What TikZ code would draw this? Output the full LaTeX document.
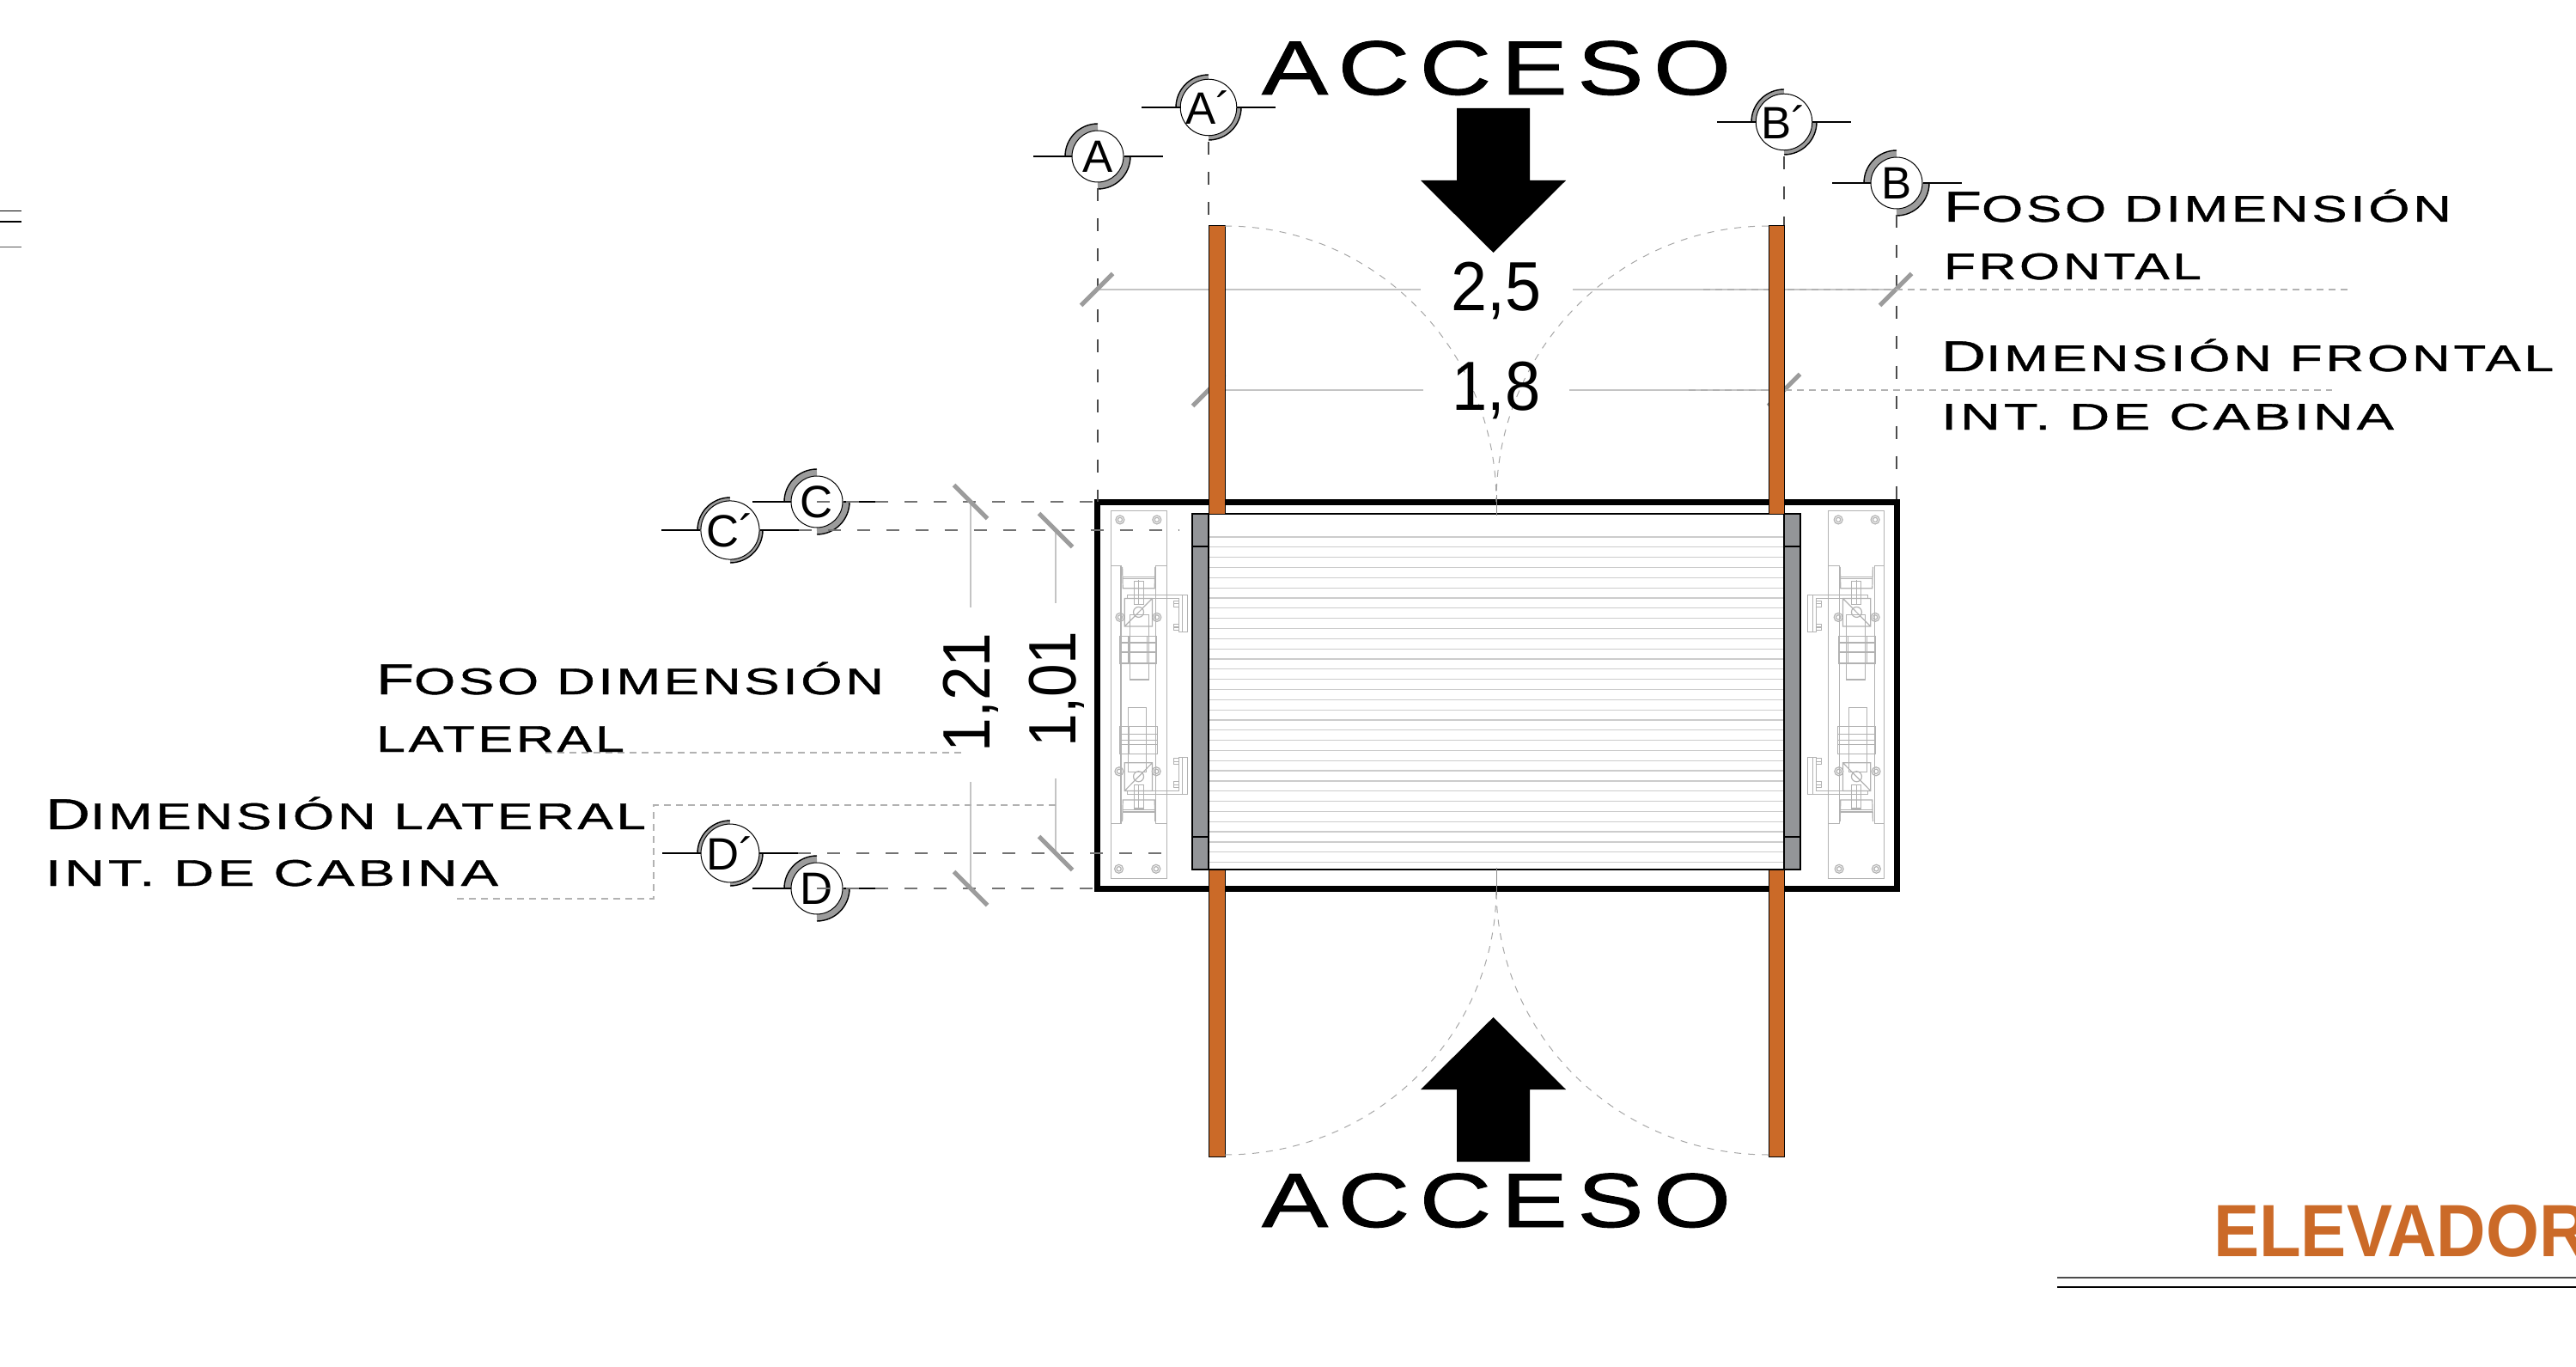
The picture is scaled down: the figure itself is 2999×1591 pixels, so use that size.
\documentclass[tikz,border=0pt]{standalone}
\usepackage{graphicx}
\usepackage{fontspec}
\setmainfont{Liberation Sans}
\newfontfamily\eu[LetterSpace=6,FakeBold=0.8]{Liberation Sans}
\newfontfamily\euwide[LetterSpace=10,FakeBold=1]{Liberation Sans}
\usetikzlibrary{calc}
\newlength\pxu \setlength\pxu{0.01cm}
\definecolor{orangecol}{HTML}{CB6A28}
\definecolor{barcol}{HTML}{939598}
\definecolor{tickcol}{HTML}{9C9C9C}
\definecolor{linecol}{HTML}{C4C4C4}
\definecolor{machcol}{HTML}{B2B2B2}
\newcommand\euT[2]{{\eu\fontsize{14.3}{17}\selectfont #1}{\eu\fontsize{12.3}{15}\selectfont #2}}
\newcommand\euS[1]{{\eu\fontsize{12.3}{15}\selectfont #1}}
\newcommand\fitw[2]{\resizebox{#1\pxu}{\height}{#2}}
\tikzset{
  labeltext/.style={inner sep=0pt,outer sep=0pt,anchor=base west,text=black},
  dimtext/.style={inner sep=0pt,outer sep=0pt,anchor=base,font=\fontsize{23}{26}\selectfont},
  dimrot/.style={inner sep=0pt,outer sep=0pt,anchor=base,rotate=90,font=\fontsize{22.2}{26}\selectfont},
  marktext/.style={circle,draw=black,fill=white,line width=1\pxu,minimum size=60\pxu,inner sep=0pt,font=\fontsize{15}{18}\selectfont},
  secline/.style={line width=2\pxu,black},
  ringgray/.style={line width=8\pxu,tickcol},
  ringblack/.style={line width=1.4\pxu,black},
  vdash/.style={line width=1.2\pxu,black!70,dash pattern=on 15\pxu off 20\pxu},
  hdash/.style={line width=1.5\pxu,black!55,dash pattern=on 15\pxu off 19\pxu},
  leader/.style={line width=1.2\pxu,black!30,dash pattern=on 8\pxu off 6\pxu},
  swing/.style={line width=1\pxu,black!35,dash pattern=on 8\pxu off 8\pxu},
  dimline/.style={line width=1.5\pxu,linecol},
  tickmark/.style={line width=5\pxu,tickcol},
  column/.style={draw=black,line width=1\pxu,fill=orangecol},
  bar/.style={draw=black,line width=1.5\pxu,fill=barcol},
  slat/.style={line width=1.2\pxu,black!20},
  mach/.style={line width=1.2\pxu,machcol},
  arrowfill/.style={fill=black,draw=none},
}
\newcommand\secmark[4]{%
  \draw[ringgray] ($(#2,#3)+(-34,0)$) arc[start angle=180,end angle=270,radius=34];
  \draw[ringgray] ($(#2,#3)+(34,0)$) arc[start angle=0,end angle=90,radius=34];
  \draw[ringblack] ($(#2,#3)+(-38,0)$) arc[start angle=180,end angle=270,radius=38];
  \draw[ringblack] ($(#2,#3)+(38,0)$) arc[start angle=0,end angle=90,radius=38];
  \node[marktext] (#1) at (#2,#3) {#4};
  \draw[secline] (#1.west) -- ++(-45,0);
  \draw[secline] (#1.east) -- ++(45,0);
}
\newcommand\machine{%
  \draw[mach] (130,103) rectangle (325,1390);
  \draw[mach] (130,295) -- (165,295) -- (165,1198) -- (130,1198);
  \draw[mach] (325,295) -- (287,295) -- (287,1198) -- (325,1198);
  \foreach \px/\py in {162/135,291/135,162/476,291/476,159/1015,289/1015,158/1356,288/1356}{
    \draw[mach] (\px,\py) circle[radius=15] (\px,\py) circle[radius=8];
  }
  % upper assembly
  \draw[mach] (170,300) -- (172,375) -- (283,375) -- (285,300);
  \draw[mach] (170,335) -- (285,335) (172,342) -- (283,342);
  \draw[mach] (212,350) rectangle (245,430) (228,345) -- (228,430);
  \draw[mach] (178,410) rectangle (275,508) (178,508) -- (275,410);
  \draw[mach] (227,458) circle[radius=18];
  \draw[mach] (197,468) rectangle (262,694);
  \draw[mach] (160,542) rectangle (290,637) (160,565) -- (290,565) (160,598) -- (290,598) (192,542) -- (192,637) (258,542) -- (258,637);
  \draw[mach] (187,410) -- (187,398) -- (398,398) -- (398,528) -- (368,528) -- (368,410) -- (187,410) (380,398) -- (380,528);
  \draw[mach] (350,418) rectangle (368,440) (350,429) -- (368,429);
  \draw[mach] (350,500) rectangle (368,522) (350,511) -- (368,511);
  % lower assembly
  \draw[mach] (170,1190) -- (172,1115) -- (283,1115) -- (285,1190);
  \draw[mach] (172,1150) -- (283,1150) (172,1157) -- (283,1157);
  \draw[mach] (212,1062) rectangle (245,1145) (228,1062) -- (228,1152);
  \draw[mach] (178,985) rectangle (275,1083) (178,1083) -- (275,985);
  \draw[mach] (227,1033) circle[radius=18];
  \draw[mach] (190,792) rectangle (254,1018);
  \draw[mach] (160,857) rectangle (292,953) (160,885) -- (292,885) (160,905) -- (292,905) (160,920) -- (292,920) (192,857) -- (192,953) (254,857) -- (254,953);
  \draw[mach] (187,1083) -- (187,1096) -- (398,1096) -- (398,965) -- (368,965) -- (368,1083) -- (187,1083) (380,965) -- (380,1096);
  \draw[mach] (350,970) rectangle (368,990) (350,980) -- (368,980);
  \draw[mach] (350,1050) rectangle (368,1072) (350,1061) -- (368,1061);
}
\begin{document}
\begin{tikzpicture}[x=0.01cm,y=-0.01cm]
\useasboundingbox (0,0) rectangle (2999,1591);
\clip (0,0) rectangle (2999,1591);

% left margin strokes
\draw[line width=1\pxu,black] (0,246) -- (25,246);
\draw[line width=2\pxu,black] (0,258) -- (25,258);
\draw[line width=1\pxu,black!65] (0,288) -- (25,288);

% anchors of the plan
\coordinate (pitNW) at (1277,584);
\coordinate (pitSE) at (2208,1034.5);
\coordinate (cabNW) at (1407,598);
\coordinate (cabSE) at (2077,1012);

% section markers
\secmark{A}{1278}{182}{A}
\secmark{Ap}{1407}{125}{A´}
\secmark{Bp}{2077}{142}{B´}
\secmark{B}{2208}{213}{B}
\secmark{C}{951}{584}{C}
\secmark{Cp}{850}{617}{C´}
\secmark{Dp}{850}{993}{D´}
\secmark{D}{951}{1034}{D}

% pit: outer wall
\draw[line width=7\pxu,black] (pitNW) rectangle (pitSE);

% machines
\begin{scope}[shift={(1250,560)},x=0.0033333cm,y=-0.0033333cm]
\machine
\end{scope}
\begin{scope}[shift={(2237,560)},x=-0.0033333cm,y=-0.0033333cm]
\machine
\end{scope}

% section leaders
\draw[vdash] ([yshift=-7\pxu]A.south) -- (A|-pitNW);
\draw[vdash] ([yshift=-7\pxu]Ap.south) -- (1407,263);
\draw[vdash] ([yshift=-7\pxu]Bp.south) -- (2077,263);
\draw[vdash] ([yshift=-7\pxu]B.south) -- (B|-pitNW);
\coordinate (cEnd) at (1273,584);
\coordinate (dEnd) at (1273,1034);
\coordinate (cpEnd) at (1373,617);
\coordinate (dpEnd) at (1370,993);
\draw[hdash] (C.center) -- (cEnd);
\draw[hdash] ([xshift=45\pxu]Cp.east) -- (cpEnd);
\draw[hdash] ([xshift=45\pxu]Dp.east) -- (dpEnd);
\draw[hdash] (D.center) -- (dEnd);

% dimension lines
\coordinate (t25L) at (1277,337);
\coordinate (t25R) at (2207,337);
\coordinate (t18L) at (1407,454);
\coordinate (t18R) at (2077,454);
\coordinate (t121T) at (1130,584);
\coordinate (t121B) at (1130,1034);
\coordinate (t101T) at (1229,617);
\coordinate (t101B) at (1229,993);
\coordinate (e25L) at (1654,337);
\coordinate (e25R) at (1831,337);
\coordinate (e18L) at (1657,454);
\coordinate (e18R) at (1827,454);
\coordinate (e121T) at (1130,707);
\coordinate (e121B) at (1130,910);
\coordinate (e101T) at (1229,702);
\coordinate (e101B) at (1229,906);
\draw[dimline] (t25L) -- (e25L) (e25R) -- (t25R);
\draw[dimline] (t18L) -- (e18L) (e18R) -- (t18R);
\draw[dimline] (t121T) -- (e121T) (e121B) -- (t121B);
\draw[dimline] (t101T) -- (e101T) (e101B) -- (t101B);
\foreach \c in {t25L,t25R,t18L,t18R}{
  \draw[tickmark] ($(\c)+(-18.5,18.5)$) -- ($(\c)+(18.5,-18.5)$);
}
\foreach \c in {t121T,t121B,t101T,t101B}{
  \draw[tickmark] ($(\c)+(-19.5,-19.5)$) -- ($(\c)+(19.5,19.5)$);
}

% label leaders
\coordinate (l1a) at (1983,337);
\coordinate (l1b) at (2735,337);
\coordinate (l2a) at (1966,454);
\coordinate (l2b) at (2715,454);
\coordinate (l3a) at (635,876);
\coordinate (l3b) at (1123,876);
\coordinate (l4a) at (1229,937);
\coordinate (l4b) at (761,937);
\coordinate (l4c) at (761,1046);
\coordinate (l4d) at (528,1046);
\draw[leader] (l1a) -- (l1b);
\draw[leader] (l2a) -- (l2b);
\draw[leader] (l3a) -- (l3b);
\draw[leader] (l4a) -- (l4b) -- (l4c) -- (l4d);

% cabin
\fill[white] (cabNW) rectangle (cabSE);
\foreach \i in {0,...,32}{
  \draw[slat] (1407,625+11.83*\i) -- (2077,625+11.83*\i);
}
\draw[line width=1.5\pxu,black] (cabNW) rectangle (cabSE);
\draw[bar] (1388,598) rectangle (1407,1012);
\draw[bar] (2077,598) rectangle (2096,1012);
\draw[line width=1.5\pxu,black] (1388,636) -- (1407,636) (1388,974) -- (1407,974);
\draw[line width=1.5\pxu,black] (2077,636) -- (2096,636) (2077,974) -- (2096,974);

% door columns
\draw[column] (1407,263) rectangle (1426,598);
\draw[column] (2059,263) rectangle (2077,598);
\draw[column] (1407,1012) rectangle (1426,1346);
\draw[column] (2059,1012) rectangle (2077,1346);

% door swings
\coordinate (swTL) at (1426,263);
\coordinate (swTR) at (2059,263);
\coordinate (swBL) at (1426,1344);
\coordinate (swBR) at (2059,1344);
\draw[swing] (swTL) arc[start angle=270,end angle=360,x radius=316,y radius=321];
\draw[swing] (swTR) arc[start angle=270,end angle=180,x radius=317,y radius=321];
\draw[swing] (swBL) arc[start angle=90,end angle=0,x radius=316,y radius=310];
\draw[swing] (swBR) arc[start angle=90,end angle=180,x radius=317,y radius=310];
\coordinate (axT1) at (1742,576);
\coordinate (axT2) at (1742,600);
\coordinate (axB1) at (1742,1010);
\coordinate (axB2) at (1742,1042);
\draw[line width=1\pxu,black!45] (axT1) -- (axT2) (axB1) -- (axB2);

% access arrows
\fill[arrowfill] (1696,126) -- (1781,126) -- (1781,210) -- (1823,210) -- (1738.5,294) -- (1654,210) -- (1696,210) -- cycle;
\fill[arrowfill] (1696,1352) -- (1781,1352) -- (1781,1268) -- (1823,1268) -- (1738.5,1184) -- (1654,1268) -- (1696,1268) -- cycle;

% access titles
\node[labeltext] (accTop) at (1469,110) {\fitw{546}{\euwide\fontsize{25.4}{30}\selectfont ACCESO}};
\node[labeltext] (accBot) at (1469,1428) {\fitw{546}{\euwide\fontsize{25.4}{30}\selectfont ACCESO}};

% dimensions
\node[dimtext] (d25) at (1742,361) {\fitw{105}{2,5}};
\node[dimtext] (d18) at (1742,477) {\fitw{103}{1,8}};
\node[dimrot] (d121) at (1152,806) {\fitw{139}{1,21}};
\node[dimrot] (d101) at (1252,802) {\fitw{135}{1,01}};

% labels
\node[labeltext] (ff1) at (2263,258) {\fitw{591}{\euT{F}{OSO DIMENSIÓN}}};
\node[labeltext] (ff2) at (2263,325) {\fitw{300}{\euS{FRONTAL}}};
\node[labeltext] (df1) at (2260,432) {\fitw{713}{\euT{D}{IMENSIÓN FRONTAL}}};
\node[labeltext] (df2) at (2260,500) {\fitw{527}{\euS{INT. DE CABINA}}};
\node[labeltext] (fl1) at (438,808) {\fitw{591}{\euT{F}{OSO DIMENSIÓN}}};
\node[labeltext] (fl2) at (438,875) {\fitw{289}{\euS{LATERAL}}};
\node[labeltext] (dl1) at (53,965) {\fitw{699}{\euT{D}{IMENSIÓN LATERAL}}};
\node[labeltext] (dl2) at (53,1031) {\fitw{527}{\euS{INT. DE CABINA}}};

% title
\node[labeltext,text=orangecol] (ttl) at (2577,1462) {\fitw{437}{\fontsize{24.5}{29}\selectfont\bfseries ELEVADOR}};
\coordinate (rA) at (2395,1487);
\coordinate (rB) at (2999,1487);
\coordinate (rC) at (2395,1498);
\coordinate (rD) at (2999,1498);
\draw[line width=1.5\pxu,black!70] (rA) -- (rB);
\draw[line width=2.5\pxu,black] (rC) -- (rD);
\end{tikzpicture}
\end{document}
